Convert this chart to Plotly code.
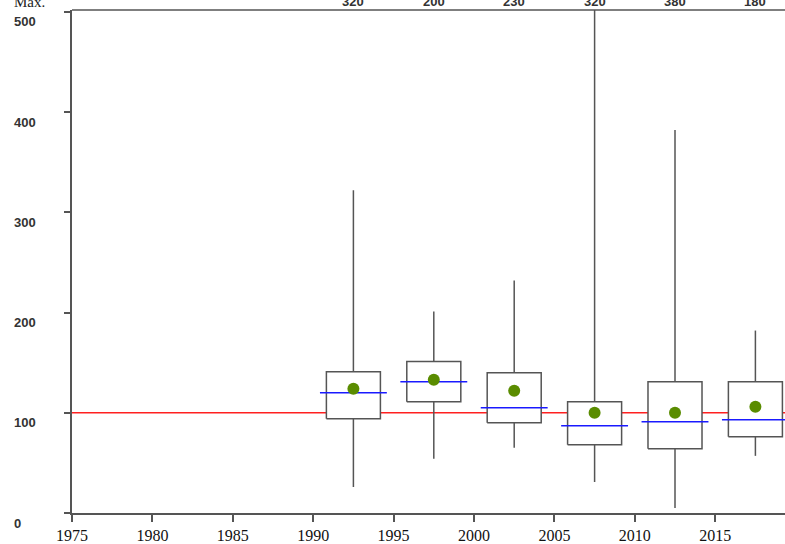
import plotly.graph_objects as go

# ---- data ----
periods = [1992.5, 1997.5, 2002.5, 2007.5, 2012.5, 2017.5]
maxima = [322, 201, 232, 520, 382, 182]
q3 = [141, 151, 140, 111, 131, 131]
medians = [120, 131, 105, 87, 91, 93]
means = [124, 133, 122, 100, 100, 106]
q1 = [94, 111, 90, 68, 64, 76]
minima = [26, 54, 65, 31, 5, 57]
max_labels = ["320", "200", "230", "320", "380", "180"]
reference_level = 100
x_ticks = [1975, 1980, 1985, 1990, 1995, 2000, 2005, 2010, 2015]
y_ticks = [0, 100, 200, 300, 400, 500]

# ---- style ----
GREY = "#555555"
BOX_HALF = 1.68
MED_HALF = 2.08
W, H = 785, 544
ML, MR, MT, MB = 72, 0, 10, 31
plot_w = W - ML - MR

fig = go.Figure()

# reference line (drawn under boxes)
fig.add_shape(type="line", xref="paper", yref="y", x0=-5 / plot_w, x1=1,
              y0=reference_level, y1=reference_level,
              line=dict(color="#ff2020", width=1.5), layer="below")

for i, c in enumerate(periods):
    # whisker
    fig.add_trace(go.Scatter(x=[c, c], y=[minima[i], maxima[i]], mode="lines",
                             line=dict(color=GREY, width=1.5),
                             showlegend=False, hoverinfo="skip"))
    # box
    fig.add_trace(go.Scatter(
        x=[c - BOX_HALF, c + BOX_HALF, c + BOX_HALF, c - BOX_HALF, c - BOX_HALF],
        y=[q1[i], q1[i], q3[i], q3[i], q1[i]],
        mode="lines", fill="toself", fillcolor="white",
        line=dict(color=GREY, width=1.5), showlegend=False, hoverinfo="skip"))
    # median
    fig.add_trace(go.Scatter(x=[c - MED_HALF, c + MED_HALF], y=[medians[i], medians[i]],
                             mode="lines", line=dict(color="#1a1aff", width=1.5),
                             showlegend=False, hoverinfo="skip"))

# means
fig.add_trace(go.Scatter(x=periods, y=means, mode="markers",
                         marker=dict(color="#5a8c00", size=12),
                         showlegend=False, hoverinfo="skip"))

LABEL_FONT = dict(family="Liberation Sans", size=13, color="#333333", weight="bold")

# top labels (max values)
for c, t in zip(periods, max_labels):
    fig.add_annotation(x=c, y=1, xref="x", yref="paper", text=t, showarrow=False,
                       yanchor="bottom", yshift=-1, font=LABEL_FONT)
fig.add_annotation(x=(12 - ML) / plot_w, y=1, xref="paper", yref="paper",
                   text="Max.", showarrow=False, xanchor="left", yanchor="bottom", yshift=-2,
                   font=dict(family="Liberation Serif", size=15, color="#222222"))

# y tick labels
for v in y_ticks:
    fig.add_annotation(x=(12 - ML) / plot_w, y=v, xref="paper", yref="y", text=str(v),
                       showarrow=False, xanchor="left", yanchor="middle", yshift=-10,
                       font=LABEL_FONT)

fig.update_layout(
    width=W, height=H, margin=dict(l=ML, r=MR, t=MT, b=MB),
    paper_bgcolor="white", plot_bgcolor="white",
    xaxis=dict(range=[1975, 1975 + plot_w / 16.08], tickvals=x_ticks,
               ticktext=[str(v) for v in x_ticks], automargin=False,
               showgrid=False, zeroline=False, showline=True, linecolor=GREY, linewidth=1.5,
               ticks="outside", ticklen=7, tickcolor=GREY, tickwidth=1.5,
               ticklabelstandoff=0,
               tickfont=dict(family="Liberation Serif", size=16, color="#111111"),
               mirror=False),
    yaxis=dict(range=[0, 503 / 1.0025], tickvals=y_ticks, showticklabels=False,
               automargin=False,
               showgrid=False, zeroline=False, showline=True, linecolor=GREY, linewidth=1.5,
               ticks="outside", ticklen=6, tickcolor=GREY, tickwidth=1.5),
)
# top frame line
fig.add_shape(type="line", xref="paper", yref="paper", x0=0, x1=1, y0=1, y1=1,
              line=dict(color=GREY, width=1.5))

fig.write_html("out.html")
